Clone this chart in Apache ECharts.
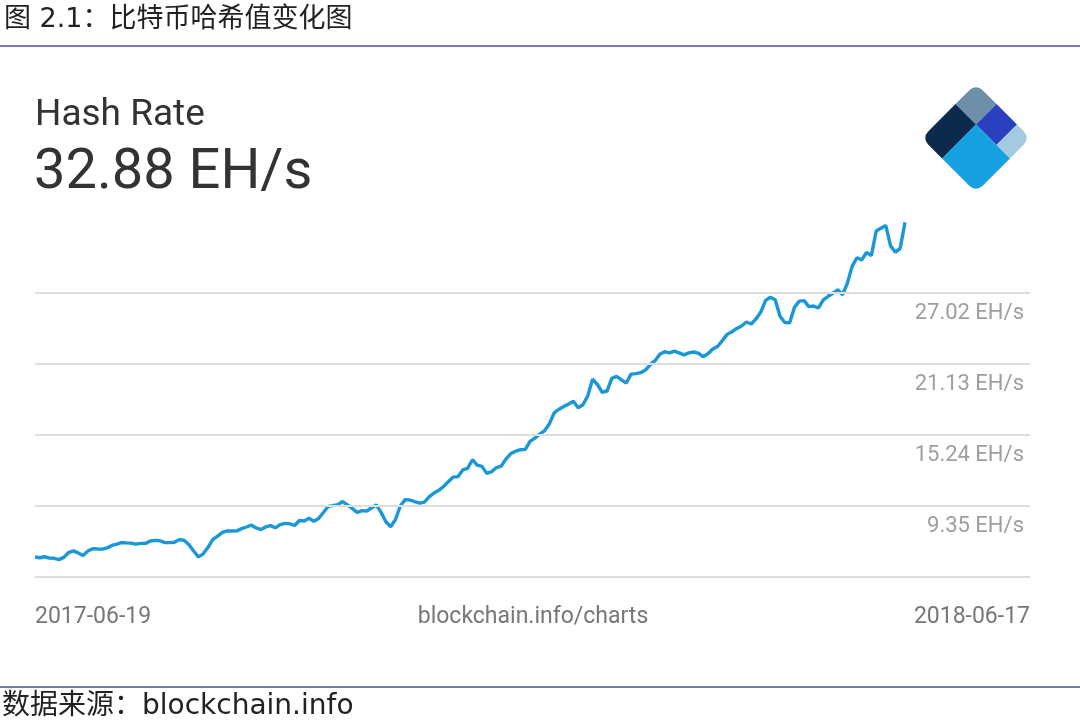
<!DOCTYPE html>
<html><head><meta charset="utf-8">
<script src="https://cdn.jsdelivr.net/npm/echarts@6/dist/echarts.min.js"></script>
<style>html,body{margin:0;padding:0;background:#fff}#c{width:1080px;height:722px}</style>
</head><body><div id="c"></div>
<script>
// ---- data ----
const startDate = '2017-06-19';
const endLabel = '2018-06-17';
const stepDays = 2;
const hashRate = [
5.12, 5.06, 5.14, 5.03, 5.01, 4.90, 5.09, 5.49, 5.63, 5.46,
5.24, 5.61, 5.81, 5.78, 5.77, 5.87, 6.08, 6.19, 6.32, 6.29,
6.27, 6.19, 6.25, 6.25, 6.45, 6.50, 6.47, 6.31, 6.31, 6.34,
6.56, 6.51, 6.16, 5.62, 5.13, 5.38, 5.92, 6.58, 6.85, 7.16,
7.29, 7.28, 7.29, 7.47, 7.61, 7.77, 7.53, 7.40, 7.61, 7.72,
7.54, 7.80, 7.91, 7.88, 7.73, 8.15, 8.11, 8.33, 8.08, 8.31,
8.81, 9.32, 9.38, 9.46, 9.72, 9.45, 9.15, 8.81, 8.97, 8.94,
9.18, 9.44, 8.82, 8.04, 7.63, 8.23, 9.35, 9.88, 9.85, 9.71,
9.59, 9.67, 10.11, 10.43, 10.65, 10.97, 11.37, 11.75, 11.79, 12.34,
12.47, 13.19, 12.74, 12.64, 12.06, 12.20, 12.54, 12.66, 13.26, 13.70,
13.90, 14.02, 14.05, 14.71, 14.98, 15.32, 15.59, 16.16, 17.07, 17.38,
17.61, 17.80, 18.04, 17.50, 17.75, 18.49, 19.87, 19.43, 18.79, 18.89,
19.94, 20.10, 19.82, 19.55, 20.29, 20.33, 20.41, 20.63, 21.08, 21.41,
21.94, 22.15, 22.05, 22.20, 22.05, 21.89, 22.05, 22.13, 22.04, 21.74,
21.98, 22.37, 22.58, 23.07, 23.59, 23.81, 24.08, 24.29, 24.62, 24.45,
24.87, 25.44, 26.41, 26.67, 26.47, 25.10, 24.58, 24.56, 25.83, 26.35,
26.39, 25.89, 25.94, 25.78, 26.46, 26.75, 27.00, 27.29, 26.88, 27.82,
29.23, 29.95, 29.77, 30.38, 30.12, 32.16, 32.39, 32.62, 30.93, 30.41,
30.73, 32.88
];
const gridValues = [3.46, 9.35, 15.24, 21.13, 27.02];
const headline = 'Hash Rate';
const currentValue = '32.88 EH/s';
const figTitle = '图 2.1：比特币哈希值变化图';
const sourceText = '数据来源：blockchain.info';
const centerLabel = 'blockchain.info/charts';

// ---- build ----
const DAY = 86400000;
const t0 = Date.parse(startDate + 'T00:00:00Z');
const seriesData = hashRate.map((v, i) => [t0 + i * stepDays * DAY, v]);
const spanDays = (hashRate.length - 1) * stepDays;
const xMax = t0 + spanDays * (995 / 870) * DAY;

const chart = echarts.init(document.getElementById('c'), null, {renderer: 'canvas'});
const S = 77, sp = 29, sp2 = 29;
const cjk = '"DejaVu Sans", "Noto Sans CJK SC"';
chart.setOption({
  backgroundColor: '#fff',
  animation: false,
  grid: {left: 35, right: 50, top: 208.9, bottom: 145},
  xAxis: {type: 'time', min: t0, max: xMax, show: false},
  yAxis: {type: 'value', min: 3.46, max: 34, show: false, splitLine: {show: false}},
  series: [{
    type: 'line', data: [], z: 1, silent: true,
    markLine: {
      silent: true, symbol: ['none', 'none'], animation: false,
      lineStyle: {color: '#dedede', width: 2, type: 'solid'},
      label: {
        position: 'insideEndBottom', distance: [6, 9],
        formatter: p => p.value.toFixed(2) + ' EH/s',
        color: '#9e9e9e', fontSize: 22, fontFamily: 'Roboto'
      },
      data: gridValues.map((v, i) => i === 0 ? {yAxis: v, label: {show: false}} : {yAxis: v})
    }
  }, {
    type: 'line', data: seriesData, showSymbol: false, symbol: 'none',
    clip: false, z: 3,
    lineStyle: {color: '#1a97d6', width: 3.4}
  }],
  graphic: [
    {type: 'line', shape: {x1: 0, y1: 46, x2: 1080, y2: 46}, style: {stroke: '#7b7bab', lineWidth: 2}},
    {type: 'line', shape: {x1: 0, y1: 687, x2: 1080, y2: 687}, style: {stroke: '#7b7bab', lineWidth: 2}},
    {type: 'text', x: 4, y: 20, style: {text: figTitle, font: '27px ' + cjk, fill: '#222', textVerticalAlign: 'middle'}},
    {type: 'text', x: 2, y: 707, style: {text: sourceText, font: '28px ' + cjk, fill: '#222', textVerticalAlign: 'middle'}},
    {type: 'text', x: 35, y: 116, style: {text: headline, font: '37px Roboto', fill: '#333', textVerticalAlign: 'middle'}},
    {type: 'text', x: 34, y: 174, style: {text: currentValue, font: '56px Roboto', fill: '#333', textVerticalAlign: 'middle'}},
    {type: 'text', x: 35, y: 617, style: {text: startDate, font: '23px Roboto', fill: '#777', textVerticalAlign: 'middle'}},
    {type: 'text', x: 533, y: 617, style: {text: centerLabel, font: '23px Roboto', fill: '#777', textAlign: 'center', textVerticalAlign: 'middle'}},
    {type: 'text', x: 1030, y: 617, style: {text: endLabel, font: '23px Roboto', fill: '#777', textAlign: 'right', textVerticalAlign: 'middle'}},
    {
      type: 'group', x: 976, y: 138, rotation: -Math.PI / 4,
      children: [
        {type: 'rect', shape: {x: -S/2, y: -S/2, width: sp, height: sp2, r: [9,0,0,0]}, style: {fill: '#6d8fa7'}},
        {type: 'rect', shape: {x: -S/2, y: -S/2 + sp2, width: sp, height: S - sp2, r: [0,0,0,9]}, style: {fill: '#0c2a4b'}},
        {type: 'rect', shape: {x: -S/2 + sp, y: -S/2, width: 29, height: sp2, r: 0}, style: {fill: '#2a40be'}},
        {type: 'rect', shape: {x: -S/2 + sp + 29, y: -S/2, width: S - sp - 29, height: sp2, r: [0,9,0,0]}, style: {fill: '#a2cbe1'}},
        {type: 'rect', shape: {x: -S/2 + sp, y: -S/2 + sp2, width: S - sp, height: S - sp2, r: [0,0,9,0]}, style: {fill: '#17a1e1'}}
      ]
    }
  ]
});
</script></body></html>
